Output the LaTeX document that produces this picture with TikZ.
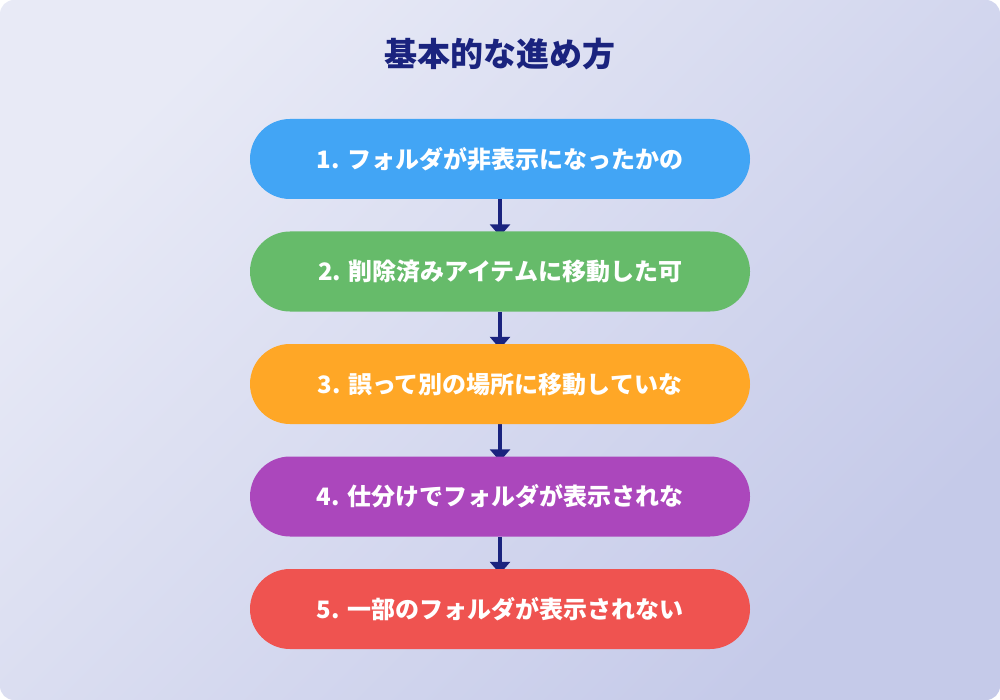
\documentclass[tikz,border=0pt]{standalone}
\usepackage{fontspec}
\setmainfont{Noto Sans CJK JP}
\usetikzlibrary{arrows.meta}
\definecolor{bgA}{HTML}{E8EAF6}
\definecolor{bgB}{HTML}{C5CAE9}
\definecolor{navy}{HTML}{1A237E}
\definecolor{cBlue}{HTML}{42A5F5}
\definecolor{cGreen}{HTML}{66BB6A}
\definecolor{cOrange}{HTML}{FFA726}
\definecolor{cPurple}{HTML}{AB47BC}
\definecolor{cRed}{HTML}{EF5350}
\pgfdeclarelayer{bg}
\pgfdeclarelayer{arr}
\pgfsetlayers{bg,arr,main}
\tikzset{
  stepbox/.style={rectangle, rounded corners=40pt, minimum width=500pt, minimum height=80pt, inner sep=0pt, text=white, font=\fontsize{24}{28}\selectfont\bfseries},
  flowarrow/.style={draw=navy, line width=4pt, -{Triangle[width=20pt,length=12pt]}, shorten >=-5pt},
  titletext/.style={text=navy, font=\fontsize{33}{38}\selectfont\bfseries}
}
\begin{document}
\begin{tikzpicture}[x=1pt,y=-1pt]
\useasboundingbox (0,0) rectangle (1000,700);
\begin{pgfonlayer}{bg}
\shade[top color=bgA, bottom color=bgB, shading angle=45, rounded corners=14pt] (0,0) rectangle (1000,700);
\end{pgfonlayer}
\node[titletext] (title) at (500,54) {基本的な進め方};
\node[stepbox, fill=cBlue] (s1) at (500,159) {1. フォルダが非表示になったかの};
\node[stepbox, fill=cGreen] (s2) at (500,271.5) {2. 削除済みアイテムに移動した可};
\node[stepbox, fill=cOrange] (s3) at (500,384) {3. 誤って別の場所に移動していな};
\node[stepbox, fill=cPurple] (s4) at (500,496.5) {4. 仕分けでフォルダが表示されな};
\node[stepbox, fill=cRed] (s5) at (500,609) {5. 一部のフォルダが表示されない};
\begin{pgfonlayer}{arr}
\draw[flowarrow] (s1.south) -- (s2.north);
\draw[flowarrow] (s2.south) -- (s3.north);
\draw[flowarrow] (s3.south) -- (s4.north);
\draw[flowarrow] (s4.south) -- (s5.north);
\end{pgfonlayer}
\end{tikzpicture}
\end{document}
